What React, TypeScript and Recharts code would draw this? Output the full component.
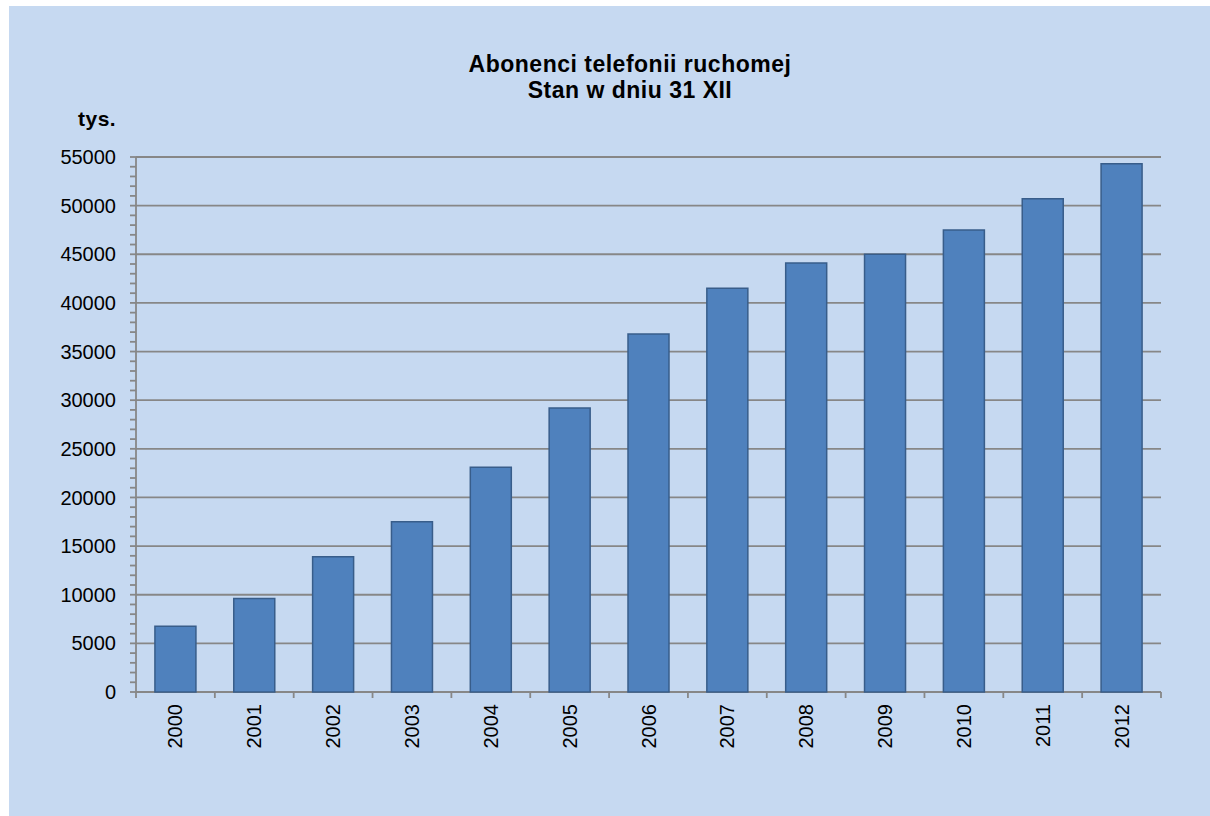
import React from "react";
import { BarChart, Bar, XAxis, YAxis, CartesianGrid } from "recharts";

const years = [
  "2000", "2001", "2002", "2003", "2004", "2005", "2006",
  "2007", "2008", "2009", "2010", "2011", "2012",
];
const subscribers = [
  6750, 9600, 13900, 17500, 23100, 29200, 36800,
  41500, 44100, 45000, 47500, 50700, 54300,
];
const majorTicks = [
  0, 5000, 10000, 15000, 20000, 25000, 30000, 35000, 40000, 45000, 50000, 55000,
];
// minor tick marks every 1000
const minorTicks = Array.from({ length: 56 }, (_, i) => i * 1000);

const chartData = years.map((year, i) => ({ year, value: subscribers[i] }));

const FONT = '"Liberation Sans", Arial, sans-serif';
const GRID = "#878787";

// year label + tick marks on category boundaries
const YearTick = (props: any) => {
  const { x, y, payload, index } = props;
  const half = payload.offset || 39.4;
  return (
    <g>
      <line x1={x - half} x2={x - half} y1={y} y2={y + 6} stroke={GRID} strokeWidth={1.8} />
      {index === years.length - 1 && (
        <line x1={x + half} x2={x + half} y1={y} y2={y + 6} stroke={GRID} strokeWidth={1.8} />
      )}
      <text
        transform={`translate(${x},${y + 12}) rotate(-90)`}
        textAnchor="end"
        dy="0.35em"
        fontSize={20}
        fontFamily={FONT}
        fill="#000"
      >
        {payload.value}
      </text>
    </g>
  );
};

const App: React.FC = () => {
  return (
    <div
      style={{
        position: "fixed",
        left: 9,
        top: 6,
        width: 1201,
        height: 810,
        background: "#c6d9f1",
        fontFamily: FONT,
      }}
    >
      <div
        style={{
          position: "absolute",
          left: 371,
          top: 45,
          width: 500,
          textAlign: "center",
          fontWeight: "bold",
          fontSize: 23,
          lineHeight: "26px",
          letterSpacing: 0.5,
          color: "#000",
        }}
      >
        Abonenci telefonii ruchomej
        <br />
        Stan w dniu 31 XII
      </div>
      <div
        style={{
          position: "absolute",
          left: 69,
          top: 101,
          fontWeight: "bold",
          fontSize: 21,
          letterSpacing: 0.5,
          color: "#000",
        }}
      >
        tys.
      </div>
      <BarChart
        width={1201}
        height={810}
        data={chartData}
        margin={{ top: 151, right: 49, left: 7, bottom: 64 }}
        barCategoryGap="24%"
      >
        <CartesianGrid
          vertical={false}
          horizontalValues={majorTicks}
          stroke={GRID}
          strokeWidth={1.8}
        />
        <XAxis
          dataKey="year"
          axisLine={false}
          tickLine={false}
          tickSize={0}
          tickMargin={0}
          interval={0}
          height={60}
          tick={<YearTick />}
        />
        <YAxis
          width={120}
          domain={[0, 55000]}
          ticks={minorTicks}
          interval={0}
          tickFormatter={(v: number) => (majorTicks.includes(v) ? String(v) : "")}
          tickSize={6}
          tickMargin={14}
          stroke={GRID}
          strokeWidth={1.8}
          tick={{ fill: "#000", fontSize: 20, fontFamily: FONT }}
        />
        <YAxis
          yAxisId="r"
          orientation="right"
          width={0}
          tick={false}
          tickLine={false}
          stroke={GRID}
          strokeWidth={1.8}
        />
        <Bar
          dataKey="value"
          fill="#4f81bd"
          stroke="#385d8a"
          strokeWidth={1.5}
          isAnimationActive={false}
        />
      </BarChart>
    </div>
  );
};

export default App;
